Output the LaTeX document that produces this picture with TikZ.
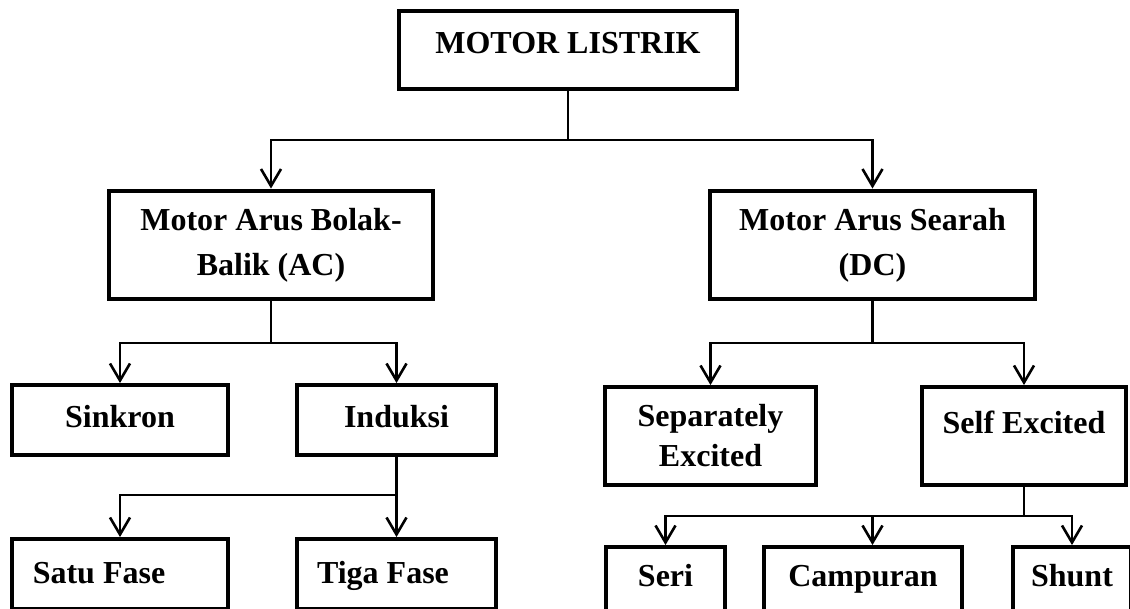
\documentclass[tikz,border=0pt]{standalone}
\usepackage{fontspec}
\setmainfont{Liberation Serif}
\usepackage{tikz}
\usetikzlibrary{arrows.meta}

\begin{document}
\begin{tikzpicture}[x=0.5pt,y=-0.5pt,
		box/.style={draw, line width=2.2pt, inner sep=0pt, font=\bfseries\fontsize{16}{22.5}\selectfont},
		lift/.style={text height=11pt, text depth=#1},
		link/.style={line width=1.3pt},
		arr/.style={line width=1.3pt, -{Straight Barb[length=8.5pt,width=10pt]}}]
				\clip (0,0) rectangle (1130,609);
				\node[box, lift=7pt, minimum width=168.75pt, minimum height=38.75pt] (0) at (568,50) {MOTOR LISTRIK};
				\node[box, align=center, minimum width=161.75pt, minimum height=54.25pt] (1) at (271,245) {Motor Arus Bolak-\\Balik (AC)};
				\node[box, align=center, minimum width=162.25pt, minimum height=54.25pt] (2) at (872.5,245) {Motor Arus Searah\\(DC)};
				\node[box, lift=4pt, minimum width=107.75pt, minimum height=34.75pt] (3) at (120,420) {Sinkron};
				\node[box, lift=4pt, minimum width=99.25pt, minimum height=34.75pt] (4) at (396.5,420) {Induksi};
				\node[box, align=center, font=\bfseries\fontsize{16}{20}\selectfont, minimum width=105.25pt, minimum height=48.75pt] (5) at (710.5,436) {Separately\\Excited};
				\node[box, lift=14pt, minimum width=101.75pt, minimum height=48.75pt] (6) at (1024,436) {Self Excited};
				\node[box, lift=2pt, minimum width=107.75pt, minimum height=34.75pt] (7) at (120,574) {Satu Fase\hspace*{21pt}};
				\node[box, lift=2pt, minimum width=99.25pt, minimum height=34.75pt] (8) at (396.5,574) {Tiga Fase\hspace*{13.5pt}};
				\node[box, lift=7pt, minimum width=59.25pt, minimum height=34.75pt] (9) at (665.5,582) {Seri};
				\node[box, lift=7pt, minimum width=98.75pt, minimum height=34.75pt] (10) at (863,582) {Campuran};
				\node[box, lift=7pt, minimum width=58.75pt, minimum height=34.75pt] (11) at (1072,582) {Shunt};
				
				\coordinate (a) at (568,140);
				\coordinate (b) at (271,343);
				\coordinate (c) at (872.5,343);
				\coordinate (d) at (396.5,495);
				\coordinate (e) at (1024,516);
				\coordinate (f) at (872.5,516);
				
				\draw[link] (0) -- (a);
				\draw[arr] (a) -| (1);
				\draw[arr] (a) -| (2);
				\draw[link] (1) -- (b);
				\draw[arr] (b) -| (3);
				\draw[arr] (b) -| (4);
				\draw[link] (2) -- (c);
				\draw[arr] (c) -| (5);
				\draw[arr] (c) -| (6);
				\draw[arr] (4) -- (8);
				\draw[arr] (d) -| (7);
				\draw[link] (6) -- (e);
				\draw[arr] (e) -| (9);
				\draw[arr] (e) -| (11);
				\draw[arr] (f) -- (f |- 10.north);
			\end{tikzpicture}
\end{document}
